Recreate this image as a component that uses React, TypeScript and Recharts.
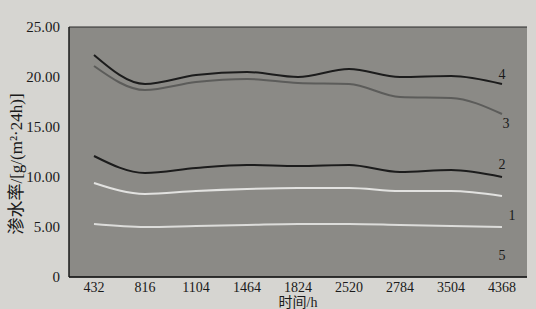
import React from 'react';
import { LineChart, Line, XAxis, YAxis, CartesianGrid, Label, ReferenceDot } from 'recharts';

const hours = ['432', '816', '1104', '1464', '1824', '2520', '2784', '3504', '4368'];
const s4 = [22.2, 19.3, 20.2, 20.5, 20.0, 20.8, 20.0, 20.1, 19.3];
const s3 = [21.1, 18.7, 19.5, 19.8, 19.4, 19.3, 18.0, 17.9, 16.3];
const s2 = [12.1, 10.4, 10.9, 11.2, 11.1, 11.2, 10.5, 10.7, 10.0];
const sLight = [9.4, 8.3, 8.6, 8.8, 8.9, 8.9, 8.6, 8.6, 8.1];
const s1 = [5.3, 5.0, 5.1, 5.2, 5.3, 5.3, 5.2, 5.1, 5.0];
const yTicks = [0, 5, 10, 15, 20, 25];
const lineLabels = ['1', '2', '3', '4', '5'];

const data = hours.map((h, i) => ({
  h,
  s4: s4[i],
  s3: s3[i],
  s2: s2[i],
  sl: sLight[i],
  s1: s1[i],
}));

const serif = "'Liberation Serif', 'Times New Roman', 'DejaVu Serif', serif";
const cjk = "'Liberation Serif', 'Times New Roman', 'Noto Sans CJK SC', serif";

const endLabel = (text: string, dx: number, dy: number) => (props: any) => {
  const { x, y, index } = props;
  if (index !== hours.length - 1) return null;
  return (
    <text x={x + dx} y={y + dy} style={{ fontFamily: serif }} fontSize={14} fill="#1a1a1a" textAnchor="middle" dominantBaseline="middle">
      {text}
    </text>
  );
};

const YLabel = (props: any) => {
  const vb = props.viewBox || {};
  const cx = 18;
  const cy = (vb.y ?? 27) + (vb.height ?? 250) / 2 + 12;
  return (
    <text
      x={cx}
      y={cy}
      transform={`rotate(-90 ${cx} ${cy})`}
      textAnchor="middle"
      dominantBaseline="middle"
      style={{ fontFamily: cjk }}
      fontSize={17}
      fill="#1a1a1a"
    >
      渗水率/[g/(m²·24h)]
    </text>
  );
};

const XTick = (props: any) => {
  const { x, y, payload } = props;
  return (
    <text x={x} y={y + 9} textAnchor="middle" style={{ fontFamily: serif }} fontSize={14} fill="#1a1a1a">
      {payload.value}
    </text>
  );
};

const YTick = (props: any) => {
  const { x, y, payload } = props;
  const v = payload.value as number;
  return (
    <text x={x - 1} y={y + 5} textAnchor="end" style={{ fontFamily: serif }} fontSize={15} fill="#1a1a1a">
      {v === 0 ? '0' : v.toFixed(2)}
    </text>
  );
};

export default function App() {
  return (
    <div style={{ position: 'absolute', left: 0, top: 0, width: 536, height: 309, background: '#d6d5d1' }}>
      <LineChart width={536} height={309} data={data} margin={{ top: 27, right: 9, left: 9, bottom: 0 }}>
        <CartesianGrid vertical={false} horizontal={true} stroke="#2a2a2a" strokeWidth={1.2} fill="#8b8a86" fillOpacity={1} />
        <XAxis
          dataKey="h"
          height={32}
          padding={{ left: 25, right: 25 }}
          axisLine={{ stroke: '#1a1a1a', strokeWidth: 1.5 }}
          tickLine={false}
          tick={<XTick />}
          tickMargin={0}
          interval={0}
        >
          <Label
            content={(p: any) => {
              const vb = p.viewBox || {};
              const cx = (vb.x ?? 0) + (vb.width ?? 0) / 2;
              return (
                <text x={cx} y={307} textAnchor="middle" style={{ fontFamily: cjk }} fontSize={14} fill="#1a1a1a">
                  时间/h
                </text>
              );
            }}
          />
        </XAxis>
        <YAxis
          yAxisId="l"
          domain={[0, 25]}
          ticks={yTicks}
          width={60}
          axisLine={{ stroke: '#1a1a1a', strokeWidth: 1.5 }}
          tickLine={false}
          tickMargin={2}
          tick={<YTick />}
        >
          <Label content={<YLabel />} />
        </YAxis>
        <YAxis yAxisId="r" orientation="right" width={0} domain={[0, 25]} tick={false} tickLine={false} axisLine={{ stroke: '#2a2a2a', strokeWidth: 1.2 }} />
        <Line yAxisId="l" type="monotone" dataKey="s1" stroke="#dcdcda" strokeWidth={2} dot={false} isAnimationActive={false} label={endLabel(lineLabels[0], 10, -10)} />
        <Line yAxisId="l" type="monotone" dataKey="sl" stroke="#e2e2e0" strokeWidth={2} dot={false} isAnimationActive={false} />
        <Line yAxisId="l" type="monotone" dataKey="s2" stroke="#1c1c1c" strokeWidth={2} dot={false} isAnimationActive={false} label={endLabel(lineLabels[1], 0, -11)} />
        <Line yAxisId="l" type="monotone" dataKey="s3" stroke="#5c5c5a" strokeWidth={2} dot={false} isAnimationActive={false} label={endLabel(lineLabels[2], 4, 11)} />
        <Line yAxisId="l" type="monotone" dataKey="s4" stroke="#1c1c1c" strokeWidth={2} dot={false} isAnimationActive={false} label={endLabel(lineLabels[3], 0, -8)} />
        <ReferenceDot
          yAxisId="l"
          x="4368"
          y={2.2}
          r={0}
          fill="none"
          stroke="none"
          label={{ value: lineLabels[4], position: 'center', style: { fontFamily: serif, fontSize: 14, fill: '#1a1a1a' } }}
        />
      </LineChart>
    </div>
  );
}
